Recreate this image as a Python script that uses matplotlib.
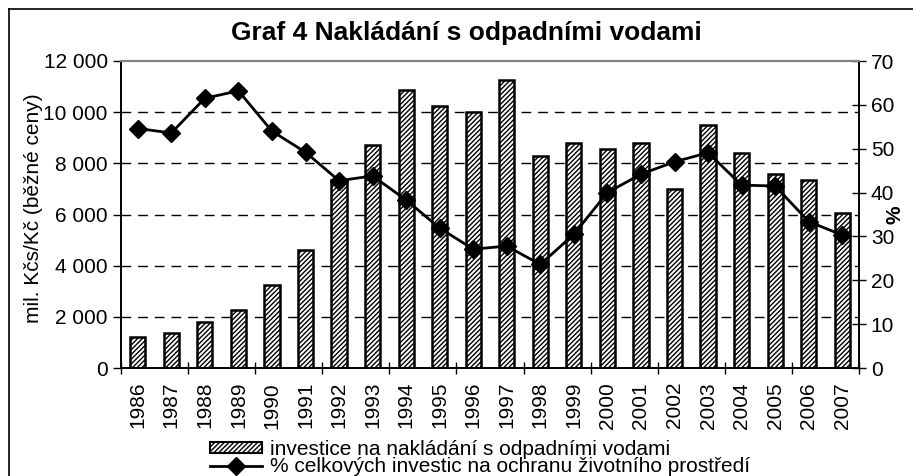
import matplotlib
matplotlib.use("Agg")
import matplotlib.pyplot as plt
from matplotlib.lines import Line2D
from matplotlib.patches import Patch
import numpy as np

plt.rcParams['font.family'] = ['Liberation Sans', 'DejaVu Sans']
plt.rcParams['hatch.linewidth'] = 1.0

years = ['1986', '1987', '1988', '1989', '1990', '1991', '1992', '1993', '1994', '1995',
         '1996', '1997', '1998', '1999', '2000', '2001', '2002', '2003', '2004', '2005',
         '2006', '2007']
investice = [1200, 1350, 1800, 2250, 3250, 4600, 7350, 8700, 10850, 10250,
             10000, 11250, 8300, 8800, 8550, 8800, 7000, 9500, 8400, 7600,
             7350, 6050]
podil = [54.6, 53.6, 61.5, 63.2, 54.0, 49.2, 42.7, 43.8, 38.3, 31.9,
         27.1, 27.8, 23.6, 30.5, 40.0, 44.2, 47.0, 49.1, 41.7, 41.5,
         33.4, 30.3]
left_ticks = [0, 2000, 4000, 6000, 8000, 10000, 12000]
left_labels = ['0', '2 000', '4 000', '6 000', '8 000', '10 000', '12 000']
right_ticks = [0, 10, 20, 30, 40, 50, 60, 70]

W, H = 913, 476
fig = plt.figure(figsize=(W / 100, H / 100), dpi=100)
ax = fig.add_axes([121 / W, 1 - 368 / H, (859 - 121) / W, (368 - 61) / H])
ax2 = ax.twinx()

x = np.arange(len(years))
ax.bar(x, investice, width=0.45, color='white', edgecolor='black', linewidth=1.8,
       hatch='///////', zorder=2)
ax.set_xlim(-0.5, len(years) - 0.5)
ax.set_ylim(0, 12000)
ax.set_yticks(left_ticks)
ax.set_yticklabels(left_labels)
for yv in left_ticks[1:-1]:
    ax.axhline(yv, color='black', linewidth=1.0, linestyle=(0, (7, 5)), zorder=1)

ax2.plot(x, podil, color='black', linewidth=2, marker='D', markersize=9,
         markerfacecolor='black', markeredgecolor='black', zorder=3)
ax2.set_ylim(0, 70)
ax2.set_yticks(right_ticks)

ax.set_xticks(x)
ax.set_xticklabels(years, rotation=90, fontsize=15)
ax.tick_params(axis='x', which='major', length=0, pad=10)
ax.set_xticks(np.arange(-0.5, len(years), 2), minor=True)
ax.tick_params(axis='x', which='minor', length=8, direction='inout', width=1)
ax.tick_params(axis='y', labelsize=15, length=6, direction='out', width=1)
ax2.tick_params(axis='y', labelsize=15, length=10, direction='inout', width=1)

for a in (ax, ax2):
    a.spines['top'].set_color('#808080')
    a.spines['top'].set_linewidth(1.5)
    a.spines['left'].set_linewidth(1.2)
    a.spines['right'].set_linewidth(1.2)
    a.spines['bottom'].set_linewidth(1.2)
ax.set_zorder(ax2.get_zorder() - 1)
ax2.patch.set_visible(False)

ax.set_ylabel('mil. Kčs/Kč (běžné ceny)', fontsize=15)
ax.yaxis.set_label_coords(-0.106, 0.52)
ax2.set_ylabel('%', fontsize=15, fontweight='bold')
ax2.yaxis.set_label_coords(1.036, 0.5)

fig.text(466 / W, 1 - 33 / H, 'Graf 4 Nakládání s odpadními vodami', ha='center', va='center',
         fontsize=19, fontweight='bold')

handles = [Patch(facecolor='white', edgecolor='black', hatch='///////', linewidth=1.5),
           Line2D([], [], color='black', linewidth=2, marker='D', markersize=9)]
labels = ['investice na nakládání s odpadními vodami',
          '% celkových investic na ochranu životního prostředí']
fig.legend(handles, labels, loc='upper left', bbox_to_anchor=(210 / W, 1 - 440 / H),
           frameon=False, fontsize=15, handlelength=2.5, handleheight=0.45,
           handletextpad=0.38, labelspacing=-0.08, borderpad=0, borderaxespad=0)

fig.add_artist(Line2D([9 / W, 9 / W], [0, 1 - 9 / H], transform=fig.transFigure,
                      color='black', linewidth=1.2))
fig.add_artist(Line2D([9 / W, 1], [1 - 9 / H, 1 - 9 / H], transform=fig.transFigure,
                      color='black', linewidth=1.2))

fig.savefig('out.png', dpi=100)
